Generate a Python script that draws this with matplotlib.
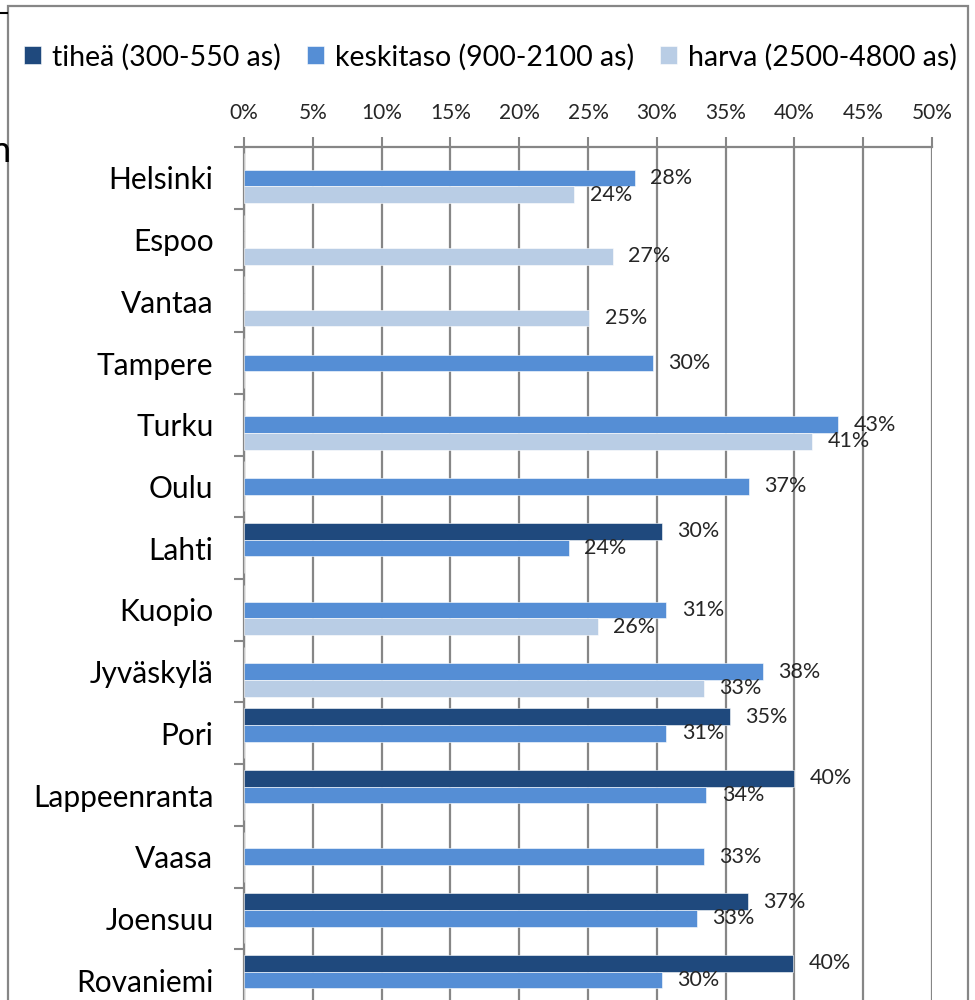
import numpy as np
import matplotlib.pyplot as plt
from matplotlib.lines import Line2D
from matplotlib.patches import Rectangle

cities = ["Helsinki", "Espoo", "Vantaa", "Tampere", "Turku", "Oulu", "Lahti",
          "Kuopio", "Jyväskylä", "Pori", "Lappeenranta", "Vaasa", "Joensuu", "Rovaniemi"]
nan = np.nan
tihea = [nan, nan, nan, nan, nan, nan, 30.4, nan, nan, 35.3, 40.0, nan, 36.6, 39.9]
keskitaso = [28.4, nan, nan, 29.7, 43.2, 36.7, 23.6, 30.7, 37.7, 30.7, 33.6, 33.4, 32.9, 30.4]
harva = [24.0, 26.8, 25.1, nan, 41.3, nan, nan, 25.7, 33.4, nan, nan, nan, nan, nan]
series_names = ["tiheä (300-550 as)", "keskitaso (900-2100 as)", "harva (2500-4800 as)"]
colors = ["#1F497D", "#558ED5", "#B9CDE5"]
xticks = list(range(0, 51, 5))

plt.rcParams['font.family'] = ['Lato', 'DejaVu Sans']

fig = plt.figure(figsize=(9.75, 10), dpi=100)
ax = fig.add_axes([0.2503, -0.011, 0.7056, 0.864])

y = np.arange(len(cities))
h = 0.27
for k, (vals, name, col) in enumerate(zip([tihea, keskitaso, harva], series_names, colors)):
    pos = y + (k - 1) * h
    v = np.array(vals, dtype=float)
    ax.barh(pos, np.nan_to_num(v), height=h, color=col, label=name,
            edgecolor="white", linewidth=0.4, zorder=3)
    for p, val in zip(pos, v):
        if not np.isnan(val):
            ax.annotate(f"{round(val)}%", (val, p), xytext=(11, 0), textcoords="offset points",
                        va="center", ha="left", fontsize=15.5, color="#262626", zorder=4)

ax.set_xlim(0, 50)
ax.set_ylim(len(cities) - 0.5, -0.5)
ax.xaxis.tick_top()
ax.set_xticks(xticks)
ax.set_xticklabels([f"{t}%" for t in xticks])
ax.tick_params(axis="x", direction="out", length=7, width=1.5, color="#868686",
               labelsize=15, labelcolor="#262626", pad=10)
ax.set_yticks(y - 0.5, minor=False)
ax.set_yticklabels([])
ax.set_yticks(y, minor=True)
ax.set_yticklabels(cities, minor=True)
ax.tick_params(axis="y", which="major", direction="out", length=7, width=1.5, color="#868686")
ax.tick_params(axis="y", which="minor", length=0, labelsize=21.5, pad=22)
ax.grid(axis="x", color="#868686", linewidth=1.6, zorder=0)
for s in ["right", "bottom"]:
    ax.spines[s].set_visible(False)
for s in ["left", "top"]:
    ax.spines[s].set_color("#868686")
    ax.spines[s].set_linewidth(1.6)

fig.legend(loc="center", bbox_to_anchor=(0.503, 0.943), ncol=3, frameon=False,
           fontsize=20.5, handlelength=0.6, handleheight=0.6, handletextpad=0.4,
           columnspacing=0.9)

# outer chart frame and a fragment of the neighbouring object
fig.patches.append(Rectangle((8 / 975, -0.1), 960 / 975, 1.094, transform=fig.transFigure,
                             fill=False, edgecolor="#868686", linewidth=1.6))
fig.lines.append(Line2D([0, 7 / 975], [0.987, 0.987], transform=fig.transFigure,
                        color="black", linewidth=1.5))
fig.text(0.011, 0.838, "n", ha="right", va="baseline", fontsize=26, color="black")

fig.savefig("out.png", dpi=100)
